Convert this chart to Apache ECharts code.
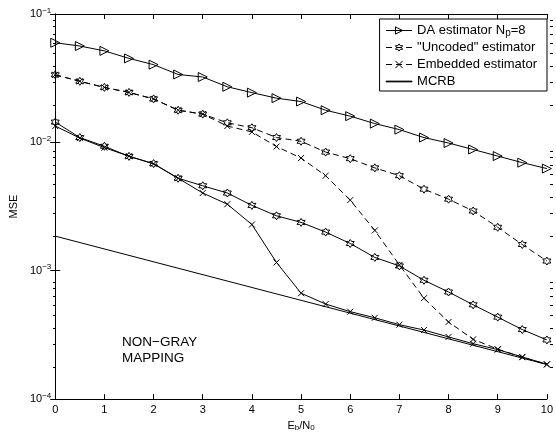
<!DOCTYPE html>
<html>
<head>
<meta charset="utf-8">
<script src="https://cdn.jsdelivr.net/npm/echarts@6/dist/echarts.min.js"></script>
<style>html,body{margin:0;padding:0;background:#fff}#c{width:556px;height:437px}</style>
</head>
<body>
<div id="c"></div>
<script>
const ebn0 = [0,0.5,1,1.5,2,2.5,3,3.5,4,4.5,5,5.5,6,6.5,7,7.5,8,8.5,9,9.5,10];
const daEstimator = [0.0597,0.0563,0.0516,0.0451,0.0403,0.0338,0.0323,0.0271,0.0244,0.0221,0.0208,0.0178,0.0160,0.0140,0.01257,0.0109,0.00988,0.0088,0.00782,0.00695,0.00625];
const uncodedDashed = [0.0336,0.0299,0.0268,0.0245,0.0218,0.0178,0.0166,0.0142,0.0130,0.0109,0.0102,0.0084,0.00746,0.00633,0.0055,0.00432,0.00361,0.00292,0.00218,0.0016,0.00119];
const embeddedDashed = [0.0336,0.0299,0.0268,0.0245,0.0218,0.0178,0.0166,0.0134,0.01207,0.00927,0.00755,0.0055,0.00355,0.00206,0.00111,0.000611,0.000399,0.000292,0.000245,0.000212,0.000186];
const uncodedSolid = [0.01439,0.0109,0.00932,0.00778,0.00683,0.00525,0.00459,0.00403,0.00323,0.00268,0.00238,0.0020,0.00163,0.00127,0.00109,0.000843,0.000683,0.000543,0.000435,0.000348,0.000289];
const embeddedSolid = [0.0134,0.0108,0.0091,0.0078,0.0068,0.00525,0.00403,0.0033,0.00229,0.00116,0.000668,0.00055,0.00048,0.00043,0.00038,0.000345,0.000305,0.00027,0.000243,0.000213,0.000187];
const mcrbX = [0,10];
const mcrb = [0.00186,0.000186];
const legendNames = ['DA estimator', '"Uncoded" estimator', 'Embedded estimator', 'MCRB'];
const yMin = 1e-4, yMax = 1e-1;
const minorTickValues = [];
for (let d = -4; d < -1; d++) for (let m = 2; m <= 9; m++) minorTickValues.push(Math.log10(m) + d);

const pair = (xs, ys) => xs.map((x, i) => [x, ys[i]]);
const hexagram = 'path://M0,-10L2.887,-5L8.66,-5L5.774,0L8.66,5L2.887,5L0,10L-2.887,5L-8.66,5L-5.774,0L-8.66,-5L-2.887,-5Z';
const cross = 'path://M-5,-5L5,5M5,-5L-5,5';
const font = 'Liberation Sans, Arial, sans-serif';
const hollow = {color: 'rgba(255,255,255,0)', borderColor: '#000', borderWidth: 1};
const gridRect = {left: 53, right: 3, top: 14, bottom: 30, containLabel: false};

function supLabel(v) {
  const e = Math.round(Math.log10(v));
  return '10{sup|' + (e < 0 ? '\u2212' + (-e) : e) + '}';
}
const minorAxis = (pos) => ({
  type: 'value', gridIndex: 1, min: -4, max: -1, position: pos,
  axisLine: {show: false},
  axisTick: {show: true, inside: true, length: 3, customValues: minorTickValues, lineStyle: {color: '#000'}},
  axisLabel: {show: false}, splitLine: {show: false}
});

const chart = echarts.init(document.getElementById('c'), null, {renderer: 'canvas'});
chart.setOption({
  animation: false,
  backgroundColor: '#fff',
  textStyle: {fontFamily: font},
  grid: [Object.assign({}, gridRect), Object.assign({}, gridRect)],
  legend: {
    data: [
      {name: legendNames[0]},
      {name: legendNames[1]},
      {name: legendNames[2]},
      {name: legendNames[3], icon: 'path://M0,0h26v0.7h-26z'}
    ],
    orient: 'vertical', right: 9, top: 19,
    backgroundColor: '#fff', borderColor: '#000', borderWidth: 1, borderRadius: 0,
    padding: [2, 10, 2, 6], itemGap: 2, itemWidth: 26, itemHeight: 9,
    lineStyle: {width: 1, color: '#000'},
    itemStyle: {borderWidth: 1, borderColor: '#000'},
    textStyle: {fontFamily: font, fontSize: 13, color: '#000', lineHeight: 15,
      rich: {sub: {fontSize: 10, verticalAlign: 'bottom', padding: [7, 0, 0, 0], fontFamily: font, lineHeight: 15}}},
    formatter: n => n === 'DA estimator' ? 'DA estimator N{sub|p}=8' : n
  },
  xAxis: [
    {type: 'value', min: 0, max: 10, interval: 1, position: 'bottom',
     name: 'E{sub|b}/N{sub|0}', nameLocation: 'middle', nameGap: 15,
     nameTextStyle: {fontFamily: font, fontSize: 11, color: '#000',
       rich: {sub: {fontSize: 8, verticalAlign: 'bottom', padding: [5, 0, 0, 0]}}},
     axisLine: {show: true, lineStyle: {color: '#000', width: 1}},
     axisTick: {inside: true, length: 5, lineStyle: {color: '#000'}},
     axisLabel: {color: '#000', fontSize: 11, margin: 5, fontFamily: font, hideOverlap: false},
     splitLine: {show: false}},
    {type: 'value', min: 0, max: 10, interval: 1, position: 'top',
     axisLine: {show: true, lineStyle: {color: '#000', width: 1}},
     axisTick: {inside: true, length: 5, lineStyle: {color: '#000'}},
     axisLabel: {show: false}, splitLine: {show: false}},
    {type: 'value', gridIndex: 1, min: 0, max: 10, show: false}
  ],
  yAxis: [
    {type: 'log', logBase: 10, min: yMin, max: yMax, position: 'left',
     name: 'MSE', nameLocation: 'middle', nameGap: 32,
     nameTextStyle: {fontFamily: font, fontSize: 11, color: '#000'},
     axisLine: {show: true, lineStyle: {color: '#000', width: 1}},
     axisTick: {inside: true, length: 5, lineStyle: {color: '#000'}},
     axisLabel: {color: '#000', fontSize: 11, margin: 4, fontFamily: font, formatter: supLabel,
       rich: {sup: {fontSize: 8, verticalAlign: 'top', padding: [0, 0, 7, 0], fontFamily: font}}},
     splitLine: {show: false}},
    {type: 'log', logBase: 10, min: yMin, max: yMax, position: 'right',
     axisLine: {show: true, lineStyle: {color: '#000', width: 1}},
     axisTick: {inside: true, length: 5, lineStyle: {color: '#000'}},
     axisLabel: {show: false}, splitLine: {show: false}},
    minorAxis('left'),
    minorAxis('right')
  ],
  graphic: [
    {type: 'text', left: 122, top: 334,
     style: {text: 'NON\u2212GRAY\nMAPPING', font: '13.5px ' + font, fill: '#000', lineHeight: 16}}
  ],
  series: [
    {name: legendNames[0], type: 'line', data: pair(ebn0, daEstimator), clip: false,
     symbol: 'triangle', symbolRotate: -90, symbolSize: 9, showAllSymbol: true,
     lineStyle: {color: '#000', width: 1}, itemStyle: hollow},
    {name: legendNames[1], type: 'line', data: pair(ebn0, uncodedDashed), clip: false,
     symbol: hexagram, symbolSize: 8, showAllSymbol: true,
     lineStyle: {color: '#000', width: 1, type: [6, 4]}, itemStyle: hollow},
    {name: legendNames[2], type: 'line', data: pair(ebn0, embeddedDashed), clip: false,
     symbol: cross, symbolSize: 6, showAllSymbol: true,
     lineStyle: {color: '#000', width: 1, type: [6, 4]}, itemStyle: hollow},
    {name: legendNames[3], type: 'line', data: pair(mcrbX, mcrb), symbol: 'none',
     lineStyle: {color: '#000', width: 1}, itemStyle: {color: '#000'}},
    {name: 'Uncoded solid', type: 'line', data: pair(ebn0, uncodedSolid), clip: false,
     symbol: hexagram, symbolSize: 8, showAllSymbol: true,
     lineStyle: {color: '#000', width: 1}, itemStyle: hollow},
    {name: 'Embedded solid', type: 'line', data: pair(ebn0, embeddedSolid), clip: false,
     symbol: cross, symbolSize: 6, showAllSymbol: true,
     lineStyle: {color: '#000', width: 1}, itemStyle: hollow}
  ]
});
</script>
</body>
</html>
